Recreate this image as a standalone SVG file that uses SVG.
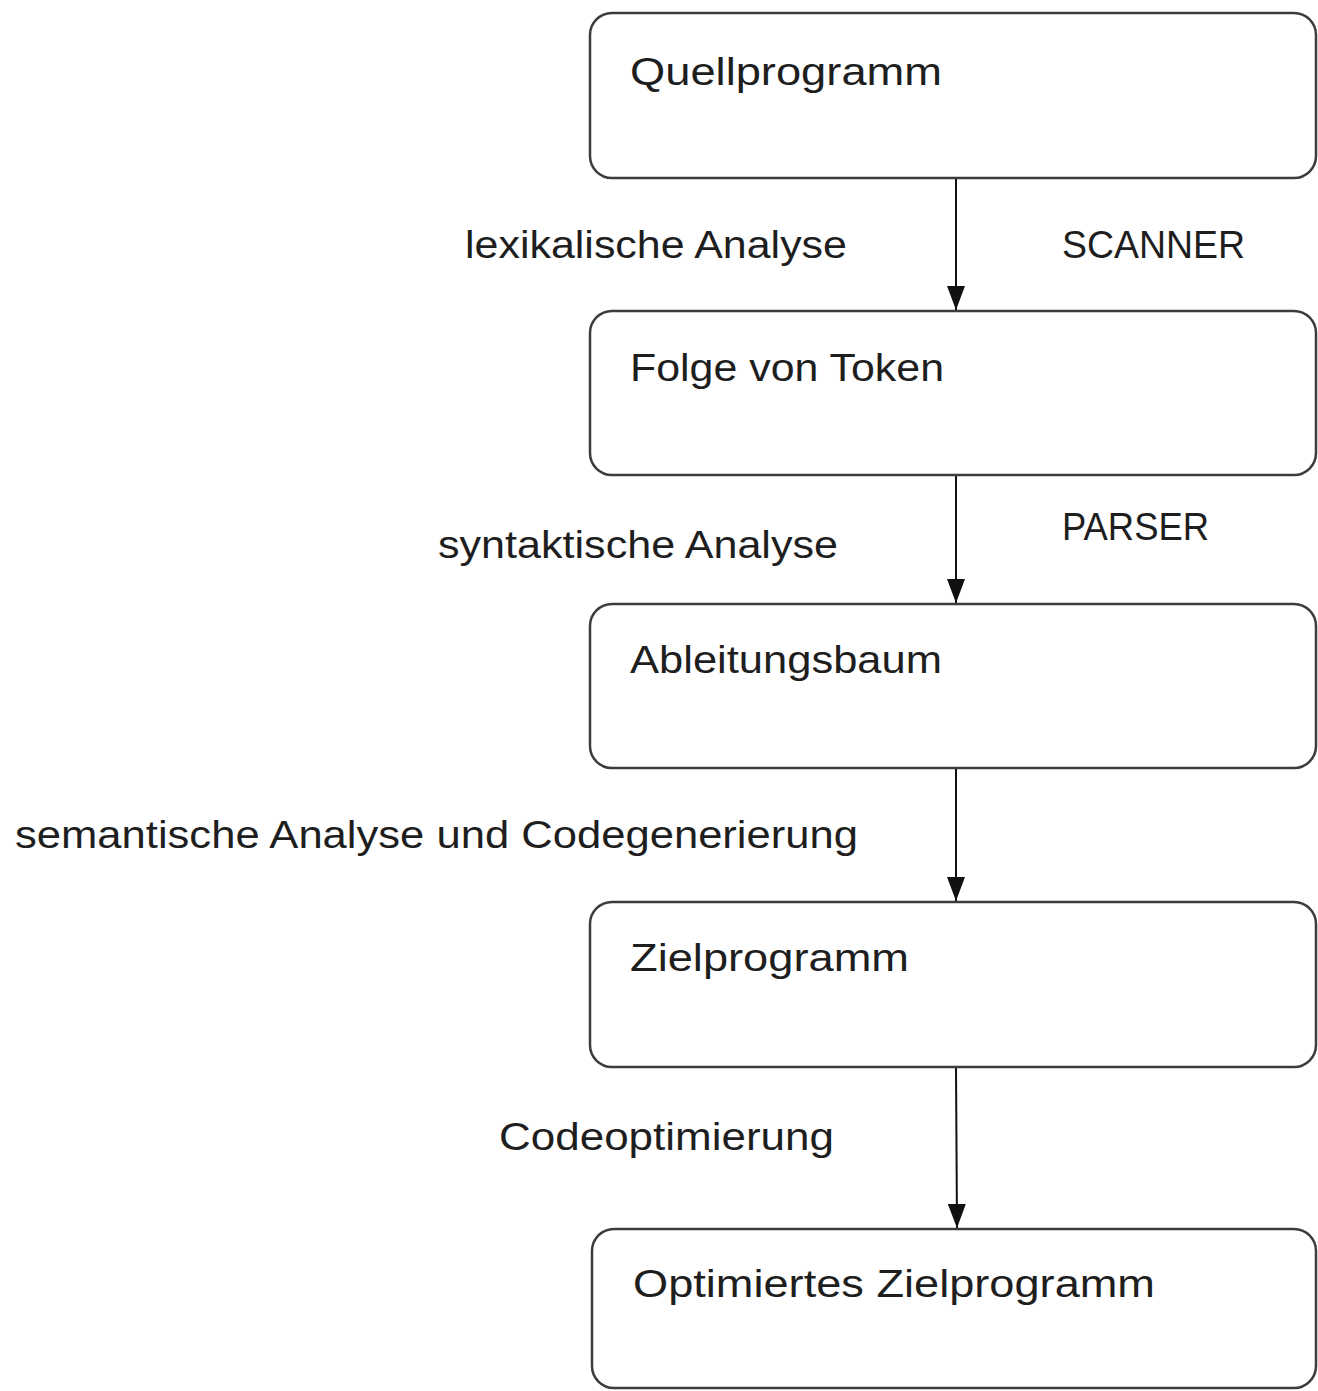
<svg xmlns="http://www.w3.org/2000/svg" width="1318" height="1391" viewBox="0 0 1318 1391">
<style>
.box{fill:#fff;stroke:#3c3c3c;stroke-width:2.5}
.t{font-family:"Liberation Sans","DejaVu Sans",sans-serif;font-size:38px;fill:#1e1e1e}
.c{stroke:#111;stroke-width:2;fill:none}
</style>
<defs>
<marker id="ah" viewBox="0 0 24 18" refX="24" refY="9" markerWidth="24" markerHeight="18" markerUnits="userSpaceOnUse" orient="auto">
<path d="M0,0 L24,9 L0,18 Z" fill="#111"/>
</marker>
</defs>
<rect width="1318" height="1391" fill="#fff"/>
<g id="connectors">
<path class="c" d="M956,178 L956,310" marker-end="url(#ah)"/>
<path class="c" d="M956,475 L956,603" marker-end="url(#ah)"/>
<path class="c" d="M956,768 L956,901" marker-end="url(#ah)"/>
<path class="c" d="M956,1067 L957,1228" marker-end="url(#ah)"/>
<text class="t" x="465" y="258" textLength="382" lengthAdjust="spacingAndGlyphs">lexikalische Analyse</text>
<text class="t" x="1062" y="258" textLength="183" lengthAdjust="spacingAndGlyphs">SCANNER</text>
<text class="t" x="438" y="558" textLength="400" lengthAdjust="spacingAndGlyphs">syntaktische Analyse</text>
<text class="t" x="1062" y="540" textLength="147" lengthAdjust="spacingAndGlyphs">PARSER</text>
<text class="t" x="15" y="848" textLength="843" lengthAdjust="spacingAndGlyphs">semantische Analyse und Codegenerierung</text>
<text class="t" x="499" y="1150" textLength="335" lengthAdjust="spacingAndGlyphs">Codeoptimierung</text>
</g>
<g id="n1">
<rect class="box" x="590" y="13" width="726" height="165" rx="22"/>
<text class="t" x="630" y="85" textLength="312" lengthAdjust="spacingAndGlyphs">Quellprogramm</text>
</g>
<g id="n2">
<rect class="box" x="590" y="311" width="726" height="164" rx="22"/>
<text class="t" x="630" y="381" textLength="314" lengthAdjust="spacingAndGlyphs">Folge von Token</text>
</g>
<g id="n3">
<rect class="box" x="590" y="604" width="726" height="164" rx="22"/>
<text class="t" x="630" y="673" textLength="312" lengthAdjust="spacingAndGlyphs">Ableitungsbaum</text>
</g>
<g id="n4">
<rect class="box" x="590" y="902" width="726" height="165" rx="22"/>
<text class="t" x="630" y="971" textLength="279" lengthAdjust="spacingAndGlyphs">Zielprogramm</text>
</g>
<g id="n5">
<rect class="box" x="592" y="1229" width="724" height="159" rx="22"/>
<text class="t" x="633" y="1297" textLength="522" lengthAdjust="spacingAndGlyphs">Optimiertes Zielprogramm</text>
</g>
</svg>
